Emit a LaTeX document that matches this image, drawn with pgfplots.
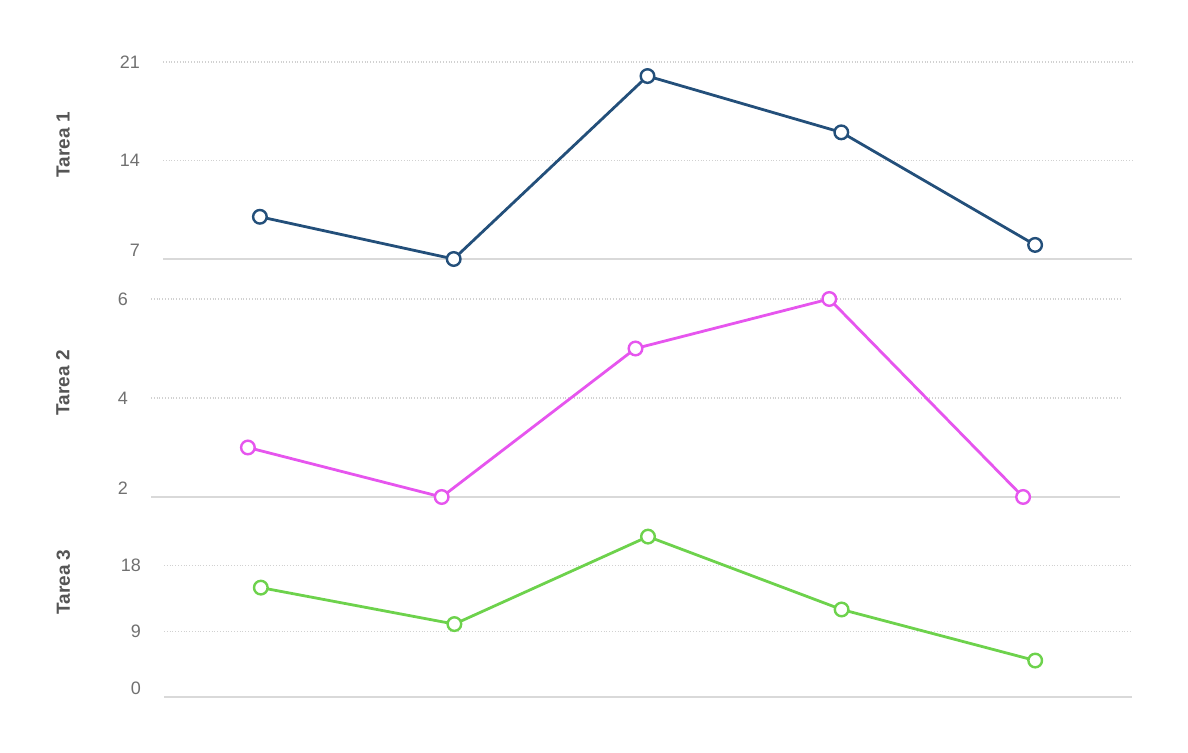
\documentclass[border=0pt]{standalone}
\usepackage{fontspec}
\setmainfont{Liberation Sans}
\usepackage{pgfplots}
\pgfplotsset{compat=1.18}

\definecolor{tblue}{HTML}{234F7A}
\definecolor{tpink}{HTML}{E655EE}
\definecolor{tgreen}{HTML}{6DD24C}
\definecolor{ticktext}{HTML}{707070}
\definecolor{labeltext}{HTML}{555555}

\pgfplotsset{
  panel/.style={
    scale only axis,
    width=484.5pt,
    anchor=south west,
    xmin=-0.5, xmax=4.5,
    xtick=\empty,
    axis x line*=bottom,
    axis y line*=left,
    x axis line style={draw=black!15, line width=0.9pt, -},
    y axis line style={draw=none},
    major tick length=0pt,
    ymajorgrids=true,
    grid style={densely dotted, black!18, line width=0.6pt},
    yticklabel style={font=\fontsize{9}{10}\selectfont, text=ticktext, xshift=-8pt},
    /pgf/number format/assume math mode=true,
    extra y tick style={ymajorgrids=false, yticklabel style={yshift=4.5pt}},
    ylabel style={font=\fontsize{9.5}{11}\selectfont\bfseries, text=labeltext, anchor=center},
    clip=false,
    every axis plot/.append style={
      line width=1.4pt,
      mark=*,
      mark size=3.4pt,
      mark options={fill=white, line width=1.2pt},
    },
  }
}

\begin{document}
\begin{tikzpicture}
\path[use as bounding box] (0,0) rectangle (594pt,376.5pt);

% Tarea 1
\begin{axis}[panel, at={(81.5pt,247pt)}, height=98.5pt,
    ymin=7, ymax=21, ytick={14,21}, extra y ticks={7},
    ylabel={Tarea 1},
    ylabel style={at={(axis description cs:-0.103,0.579)}}]
\addplot[color=tblue] coordinates {(0,10) (1,7) (2,20) (3,16) (4,8)};
\end{axis}

% Tarea 2
\begin{axis}[panel, at={(75.5pt,128pt)}, height=99pt,
    ymin=2, ymax=6, ytick={4,6}, extra y ticks={2},
    ylabel={Tarea 2},
    ylabel style={at={(axis description cs:-0.091,0.576)}}]
\addplot[color=tpink] coordinates {(0,3) (1,2) (2,5) (3,6) (4,2)};
\end{axis}

% Tarea 3
\begin{axis}[panel, at={(82pt,28pt)}, width=484pt, height=87.5pt,
    ymin=0, ymax=24, ytick={9,18}, extra y ticks={0},
    ylabel={Tarea 3},
    ylabel style={at={(axis description cs:-0.104,0.657)}}]
\addplot[color=tgreen] coordinates {(0,15) (1,10) (2,22) (3,12) (4,5)};
\end{axis}
\end{tikzpicture}
\end{document}
